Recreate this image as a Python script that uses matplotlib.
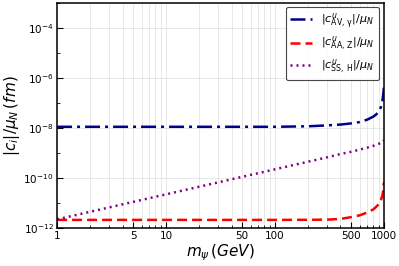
import numpy as np
import matplotlib
matplotlib.use('Agg')
import matplotlib.pyplot as plt
from matplotlib.ticker import LogLocator, NullFormatter, FixedLocator

# values
m = [1, 2, 5, 10, 20, 50, 100, 200, 300, 400, 500, 600, 700, 800, 850, 900,
     940, 970, 985, 995, 1000]
c_av = [1.1e-8, 1.1e-8, 1.1e-8, 1.1e-8, 1.1e-8, 1.1e-8, 1.1e-8, 1.15e-8,
        1.25e-8, 1.35e-8, 1.5e-8, 1.7e-8, 2.1e-8, 2.8e-8, 3.4e-8, 4.5e-8,
        6.8e-8, 1.2e-7, 2e-7, 3e-7, 4e-7]
c_aa = [2.1e-12, 2.1e-12, 2.1e-12, 2.1e-12, 2.1e-12, 2.1e-12, 2.1e-12,
        2.12e-12, 2.15e-12, 2.3e-12, 2.7e-12, 3.2e-12, 4.1e-12, 5.5e-12,
        7e-12, 9e-12, 1.3e-11, 2e-11, 3e-11, 5e-11, 6.5e-11]
c_ss = [2.2e-12, 4.4e-12, 1.1e-11, 2.2e-11, 4.4e-11, 1.1e-10, 2.2e-10,
        4.4e-10, 6.6e-10, 9e-10, 1.1e-9, 1.35e-9, 1.6e-9, 1.9e-9, 2.1e-9,
        2.3e-9, 2.55e-9, 2.75e-9, 2.9e-9, 3.1e-9, 3.2e-9]

labels = [r'$|c^{u}_{\rm AV,\,\gamma}|/\mu_N$',
          r'$|c^{u}_{\rm AA,\,Z}|/\mu_N$',
          r'$|c^{u}_{\rm SS,\,H}|/\mu_N$']
xticks = [1, 5, 10, 50, 100, 500, 1000]

fig = plt.figure(figsize=(3.99, 2.66), dpi=100)
ax = fig.add_axes([0.143, 0.143, 0.819, 0.847])

ax.plot(m, c_av, color='darkblue', lw=1.8, ls=(0, (6, 2, 1.2, 2)), label=labels[0])
ax.plot(m, c_aa, color='red', lw=1.8, ls=(0, (4, 2)), label=labels[1])
ax.plot(m, c_ss, color='purple', lw=1.8, ls=(0, (0.8, 1.6)), label=labels[2])

ax.set_xscale('log')
ax.set_yscale('log')
ax.set_xlim(1, 1000)
ax.set_ylim(1e-12, 1e-3)

ax.xaxis.set_major_locator(FixedLocator(xticks))
ax.set_xticklabels([str(t) for t in xticks])
ax.xaxis.set_minor_locator(LogLocator(base=10, subs=np.arange(1, 10)))
ax.xaxis.set_minor_formatter(NullFormatter())
ax.yaxis.set_major_locator(FixedLocator([1e-12, 1e-10, 1e-8, 1e-6, 1e-4]))
ax.yaxis.set_minor_locator(FixedLocator([1e-11, 1e-9, 1e-7, 1e-5, 1e-3]))
ax.yaxis.set_minor_formatter(NullFormatter())

ax.tick_params(which='both', direction='in', labelsize=7.5, pad=2.5)
ax.tick_params(which='major', length=4, width=0.8)
ax.tick_params(which='minor', length=2.5, width=0.6)
for s in ax.spines.values():
    s.set_linewidth(1.1)

ax.grid(True, which='both', axis='x', color='lightgray', lw=0.6, alpha=0.6)
ax.grid(True, which='major', axis='y', color='lightgray', lw=0.6, alpha=0.6)

ax.set_xlabel(r'$m_\psi\,(GeV)$', fontsize=11, labelpad=1)
ax.set_ylabel(r'$|c_i|/\mu_N\,(fm)$', fontsize=11, labelpad=1)

leg = ax.legend(loc='upper right', fontsize=8, handlelength=2.0,
                labelspacing=0.35, borderaxespad=0.4,
                edgecolor='#333333', framealpha=0.9)
leg.get_frame().set_linewidth(0.8)

fig.savefig('out.png', dpi=100)
